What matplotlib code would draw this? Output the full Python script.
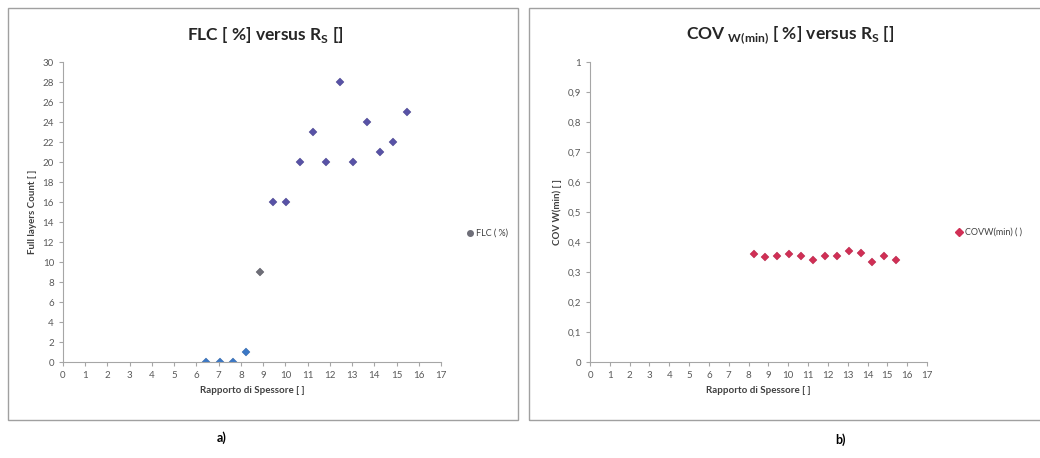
import matplotlib
matplotlib.use("Agg")
import matplotlib.pyplot as plt
from matplotlib.patches import Rectangle
from matplotlib.lines import Line2D
from matplotlib.ticker import FuncFormatter

plt.rcParams['font.family'] = ['Lato', 'DejaVu Sans']

# Panel a) Full layers count versus thickness ratio
rs_blue = [6.45, 7.05, 7.65, 8.25]
flc_blue = [0, 0, 0, 1]
rs_gray = [8.85]
flc_gray = [9]
rs_purple = [9.45, 10.05, 10.65, 11.25, 11.85, 12.45, 13.05, 13.65, 14.25, 14.85, 15.45]
flc_purple = [16, 16, 20, 23, 20, 28, 20, 24, 21, 22, 25]

# Panel b) COV W(min) versus thickness ratio
rs_cov = [8.25, 8.85, 9.45, 10.05, 10.65, 11.25, 11.85, 12.45, 13.05, 13.65, 14.25, 14.85, 15.45]
cov_wmin = [0.36, 0.35, 0.355, 0.36, 0.355, 0.34, 0.355, 0.355, 0.37, 0.365, 0.335, 0.355, 0.34]

x_ticks = list(range(0, 18))
flc_ticks = list(range(0, 31, 2))
cov_ticks = [i / 10 for i in range(0, 11)]

W, H = 1040, 458
fig = plt.figure(figsize=(W / 100, H / 100), dpi=100)
fig.patch.set_facecolor('white')


def px(x0, y0, x1, y1):
    return [x0 / W, 1 - y1 / H, (x1 - x0) / W, (y1 - y0) / H]


# Chart frames
for x0, x1 in [(8, 518), (529, 1045)]:
    fig.patches.append(Rectangle((x0 / W, 1 - 420 / H), (x1 - x0) / W, (420 - 8) / H,
                                 transform=fig.transFigure, fill=False,
                                 edgecolor='#a0a0a0', linewidth=1.0))

tick_col = '#595959'
spine_col = '#a6a6a6'


def style(ax):
    for s in ['top', 'right']:
        ax.spines[s].set_visible(False)
    for s in ['left', 'bottom']:
        ax.spines[s].set_color(spine_col)
        ax.spines[s].set_linewidth(0.8)
    ax.tick_params(colors=spine_col, labelcolor=tick_col, labelsize=7,
                   length=3, width=0.8, direction='out')
    ax.set_xlim(0, 17)
    ax.set_xticks(x_ticks)
    ax.set_xlabel('Rapporto di Spessore [ ]', fontsize=7, fontweight='bold',
                  color='#404040', labelpad=4)


mk = dict(marker='D', linestyle='none', markersize=4.5, markeredgewidth=0.3)

ax1 = fig.add_axes(px(63, 62, 441, 362))
style(ax1)
ax1.plot(rs_blue, flc_blue, color='#3b78c6', markeredgecolor='#2e5f9e', **mk)
ax1.plot(rs_gray, flc_gray, color='#6e6e78', markeredgecolor='#55555e', **mk)
ax1.plot(rs_purple, flc_purple, color='#5852a6', markeredgecolor='#46428a', **mk)
ax1.set_ylim(0, 30)
ax1.set_yticks(flc_ticks)
ax1.set_ylabel('Full layers Count [ ]', fontsize=7, fontweight='bold',
               color='#404040', labelpad=4)
fig.text(265 / W, 1 - 35 / H, r'FLC [ %] versus R$_\mathregular{S}$ []',
         ha='center', va='center', fontsize=12.5, fontweight='bold', color='#262626')

ax2 = fig.add_axes(px(590, 62, 927, 362))
style(ax2)
ax2.plot(rs_cov, cov_wmin, color='#d02f55', markeredgecolor='#b02246', **mk)
ax2.set_ylim(0, 1)
ax2.set_yticks(cov_ticks)
ax2.yaxis.set_major_formatter(FuncFormatter(
    lambda v, p: '0' if v == 0 else ('1' if v == 1 else f'{v:.1f}'.replace('.', ','))))
ax2.set_ylabel('COV W(min) [ ]', fontsize=7, fontweight='bold',
               color='#404040', labelpad=4)
fig.text(790 / W, 1 - 35 / H,
         r'COV $_\mathregular{W(min)}$ [ %] versus R$_\mathregular{S}$ []',
         ha='center', va='center', fontsize=12.5, fontweight='bold', color='#262626')

# Legends
fig.add_artist(Line2D([470 / W], [1 - 233 / H], transform=fig.transFigure,
                      color='#6e6e78', marker='o', markersize=4, linestyle='none'))
fig.text(476 / W, 1 - 233 / H, 'FLC ( %)', fontsize=6.5, color='#404040',
         ha='left', va='center')
fig.add_artist(Line2D([959 / W], [1 - 232 / H], transform=fig.transFigure,
                      color='#d02f55', marker='D', markersize=4, linestyle='none'))
fig.text(965 / W, 1 - 232 / H, 'COVW(min) ( )', fontsize=6.5, color='#404040',
         ha='left', va='center')

# Panel captions
fig.text(222 / W, 1 - 438 / H, 'a)', fontsize=9, fontweight='bold', ha='center', va='center')
fig.text(840 / W, 1 - 440 / H, 'b)', fontsize=9, fontweight='bold', ha='center', va='center')

fig.savefig('out.png', dpi=100, facecolor='white')
